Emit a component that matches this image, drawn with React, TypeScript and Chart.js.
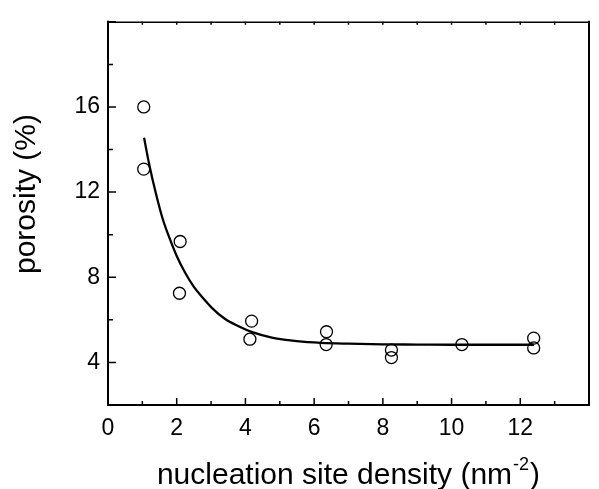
import React, { useEffect, useRef } from "react";
import { Chart, registerables } from "chart.js";

Chart.register(...registerables);

// measured points: nucleation site density (nm^-2) vs porosity (%)
const densityX = [1.04, 1.04, 2.1, 2.08, 4.18, 4.13, 6.36, 6.35, 8.25, 8.25, 10.3, 12.39, 12.39];
const porosityY = [16.0, 13.08, 9.68, 7.25, 5.94, 5.09, 5.44, 4.84, 4.58, 4.23, 4.84, 5.14, 4.68];

// fitted curve
const fitX = [1.05, 1.2, 1.4, 1.6, 1.8, 2.0, 2.25, 2.5, 2.75, 3.0, 3.4, 3.8, 4.2, 4.8, 5.5, 6.2, 7, 8, 9, 10, 11, 12.4];
const fitY = [14.55, 13.3, 11.9, 10.7, 9.8, 9.0, 8.2, 7.55, 7.05, 6.6, 6.05, 5.7, 5.42, 5.15, 5.0, 4.92, 4.88, 4.85, 4.84, 4.83, 4.83, 4.83];

// axes
const xMin = 0;
const xMax = 14;
const xLabelTicks = [0, 2, 4, 6, 8, 10, 12];
const xMinorTicks = [1, 3, 5, 7, 9, 11, 13];
const yMin = 2;
const yMax = 20;
const yLabelTicks = [4, 8, 12, 16];
const yMajorTicks = [4, 8, 12, 16, 20];
const yMinorTicks = [6, 10, 14, 18];

const xTitle = "nucleation site density (nm";
const xTitleSup = "-2";
const xTitleEnd = ")";
const yTitle = "porosity (%)";

const FONT = "'Liberation Sans', Arial, Helvetica, sans-serif";

const framePlugin = {
  id: "frameTicks",
  afterDraw(chart: any) {
    const { ctx, chartArea } = chart;
    const xs = chart.scales.x;
    const ys = chart.scales.y;
    const { left, right, top, bottom } = chartArea;
    ctx.save();
    ctx.strokeStyle = "#000";
    ctx.lineCap = "butt";
    // frame
    ctx.lineWidth = 2;
    ctx.beginPath();
    ctx.moveTo(left, top - 1);
    ctx.lineTo(left, bottom + 1);
    ctx.moveTo(left - 1, bottom);
    ctx.lineTo(right + 1, bottom);
    ctx.moveTo(right, bottom + 1);
    ctx.lineTo(right, top - 1);
    ctx.stroke();
    ctx.lineWidth = 1.5;
    ctx.beginPath();
    ctx.moveTo(left, top + 0.5);
    ctx.lineTo(right, top + 0.5);
    ctx.stroke();

    // bottom ticks (inward)
    ctx.lineWidth = 1.5;
    ctx.beginPath();
    for (const v of [...xLabelTicks, 14]) {
      const p = xs.getPixelForValue(v);
      ctx.moveTo(p, bottom);
      ctx.lineTo(p, bottom - 7);
    }
    for (const v of xMinorTicks) {
      const p = xs.getPixelForValue(v);
      ctx.moveTo(p, bottom);
      ctx.lineTo(p, bottom - 4);
    }
    // top ticks
    for (const v of [...xLabelTicks, ...xMinorTicks]) {
      const p = xs.getPixelForValue(v);
      ctx.moveTo(p, top);
      ctx.lineTo(p, top + 3);
    }
    // left ticks
    for (const v of yMajorTicks) {
      const p = ys.getPixelForValue(v);
      ctx.moveTo(left, p);
      ctx.lineTo(left + 8, p);
    }
    for (const v of yMinorTicks) {
      const p = ys.getPixelForValue(v);
      ctx.moveTo(left, p);
      ctx.lineTo(left + 5, p);
    }
    ctx.stroke();

    // axis titles
    ctx.fillStyle = "#000";
    ctx.textBaseline = "alphabetic";
    ctx.font = `30px ${FONT}`;
    const w1 = ctx.measureText(xTitle).width;
    ctx.font = `18px ${FONT}`;
    const w2 = ctx.measureText(xTitleSup).width;
    ctx.font = `30px ${FONT}`;
    const w3 = ctx.measureText(xTitleEnd).width;
    const total = w1 + w2 + w3 + 2;
    let x0 = (left + right) / 2 - total / 2;
    const base = 484;
    ctx.textAlign = "left";
    ctx.fillText(xTitle, x0, base);
    ctx.font = `18px ${FONT}`;
    ctx.fillText(xTitleSup, x0 + w1 + 1, base - 14);
    ctx.font = `30px ${FONT}`;
    ctx.fillText(xTitleEnd, x0 + w1 + w2 + 2, base);

    ctx.translate(35, 194);
    ctx.rotate(-Math.PI / 2);
    ctx.textAlign = "center";
    ctx.fillText(yTitle, 0, 0);
    ctx.restore();
  },
};

export default function App() {
  const ref = useRef<HTMLCanvasElement | null>(null);

  useEffect(() => {
    document.body.style.margin = "0";
    const canvas = ref.current;
    if (!canvas) return;
    const chart = new Chart(canvas, {
      type: "scatter",
      data: {
        datasets: [
          {
            label: "fit",
            data: fitX.map((x, i) => ({ x, y: fitY[i] })),
            showLine: true,
            borderColor: "#000",
            borderWidth: 2.3,
            pointRadius: 0,
            cubicInterpolationMode: "monotone",
            fill: false,
          } as any,
          {
            label: "data",
            data: densityX.map((x, i) => ({ x, y: porosityY[i] })),
            showLine: false,
            pointStyle: "circle",
            pointRadius: 6,
            pointBorderWidth: 1.3,
            pointBorderColor: "#000",
            pointBackgroundColor: "rgba(0,0,0,0)",
          } as any,
        ],
      },
      options: {
        responsive: false,
        animation: false,
        layout: { padding: { top: 10, right: 2, left: 0, bottom: 0 } },
        plugins: {
          legend: { display: false },
          tooltip: { enabled: false },
        },
        scales: {
          x: {
            type: "linear",
            min: xMin,
            max: xMax,
            grid: { display: false, drawTicks: false },
            border: { display: false },
            ticks: {
              stepSize: 2,
              padding: 10,
              color: "#000",
              font: { family: FONT, size: 23 },
              maxRotation: 0,
              autoSkip: false,
              callback: (v: any) => (xLabelTicks.includes(Number(v)) ? String(v) : ""),
            },
            afterFit: (s: any) => {
              s.height = 84;
            },
          },
          y: {
            type: "linear",
            min: yMin,
            max: yMax,
            grid: { display: false, drawTicks: false },
            border: { display: false },
            ticks: {
              stepSize: 2,
              padding: 8,
              color: "#000",
              font: { family: FONT, size: 23 },
              autoSkip: false,
              callback: (v: any) => (yLabelTicks.includes(Number(v)) ? String(v) : ""),
            },
            afterFit: (s: any) => {
              s.width = 108;
            },
          },
        },
      },
      plugins: [framePlugin],
    });
    return () => chart.destroy();
  }, []);

  return (
    <div style={{ position: "absolute", left: 0, top: 0, width: 599, height: 489, background: "#fff" }}>
      <canvas ref={ref} width={599} height={489} style={{ width: 599, height: 489 }} />
    </div>
  );
}
